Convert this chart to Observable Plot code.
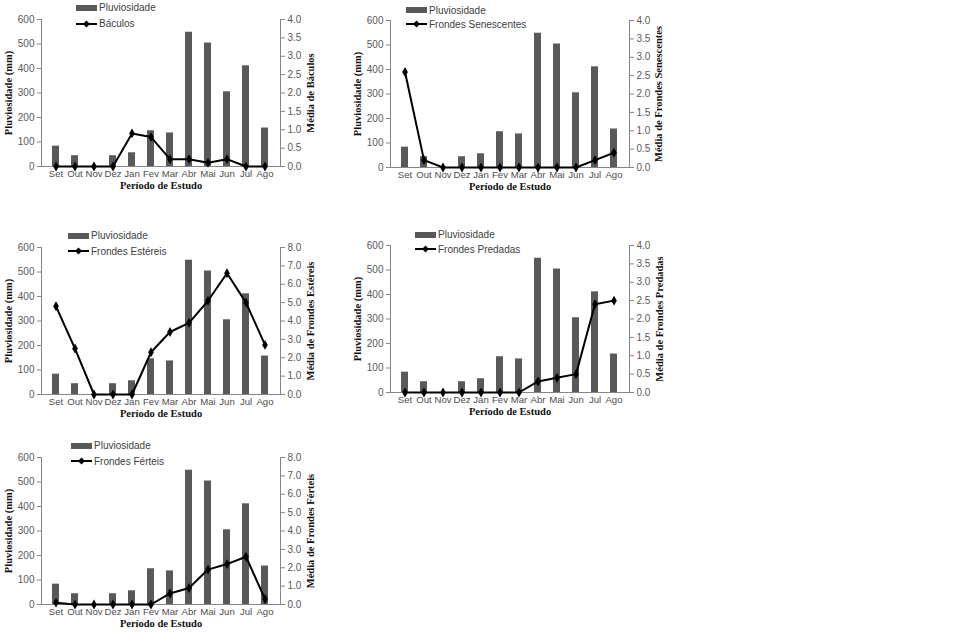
<!DOCTYPE html>
<html><head><meta charset="utf-8">
<script src="https://cdn.jsdelivr.net/npm/d3@7"></script>
<script src="https://cdn.jsdelivr.net/npm/@observablehq/plot@0.6"></script>
<style>
body{margin:0;background:#fff;}
#root{position:relative;width:970px;height:633px;overflow:hidden;background:#fff;}
.panel{position:absolute;}
.panel svg{overflow:visible;}
.lrow{position:absolute;display:flex;align-items:center;height:12px;font:10px "Liberation Sans",Arial,sans-serif;color:#404040;white-space:nowrap;}
.box{display:inline-block;width:21px;height:6px;background:#595959;margin-right:2px;}
.lrow svg{margin-right:2px;}
</style></head><body><div id="root"></div>
<script>
// ---- data ----
const months = ["Set","Out","Nov","Dez","Jan","Fev","Mar","Abr","Mai","Jun","Jul","Ago"];
const rainfall = [83, 44, 0, 44, 56, 146, 137, 548, 504, 305, 411, 157];
const baculos = [0, 0, 0, 0, 0.9, 0.8, 0.2, 0.2, 0.1, 0.2, 0, 0];
const senescentes = [2.6, 0.2, 0, 0, 0, 0, 0, 0, 0, 0, 0.2, 0.4];
const estereis = [4.8, 2.5, 0, 0, 0, 2.3, 3.4, 3.9, 5.1, 6.6, 5.0, 2.7];
const predadas = [0, 0, 0, 0, 0, 0, 0, 0.3, 0.4, 0.5, 2.4, 2.5];
const ferteis = [0.1, 0, 0, 0, 0, 0, 0.6, 0.9, 1.9, 2.2, 2.6, 0.3];
const rainTicks = [0, 100, 200, 300, 400, 500, 600];
const ticks4 = [0, 0.5, 1, 1.5, 2, 2.5, 3, 3.5, 4];
const ticks8 = [0, 1, 2, 3, 4, 5, 6, 7, 8];
const rainLabel = "Pluviosidade";
const xTitle = "Período de Estudo";
const yTitle = "Pluviosidade (mm)";

// ---- panel definitions ----
const panels = [
  {name: "Báculos", values: baculos, ticks: ticks4, max: 4, title: "Média de Báculos"},
  {name: "Frondes Senescentes", values: senescentes, ticks: ticks4, max: 4, title: "Média de Frondes Senescentes"},
  {name: "Frondes Estéreis", values: estereis, ticks: ticks8, max: 8, title: "Média de Frondes Estéreis"},
  {name: "Frondes Predadas", values: predadas, ticks: ticks4, max: 4, title: "Média de Frondes Predadas"},
  {name: "Frondes Férteis", values: ferteis, ticks: ticks8, max: 8, title: "Média de Frondes Férteis"}
];
// layout (absolute page positions)
const layout = [
  {left: 0,   top: -0.7, lx: 76,  ly1: 7.7,   ly2: 23.7, rdx: 30},
  {left: 349, top: 0.3,  lx: 406, ly1: 10,    ly2: 24.3, rdx: 29},
  {left: 0,   top: 227,  lx: 68,  ly1: 235.7, ly2: 251,  rdx: 30},
  {left: 349, top: 224.7,lx: 415, ly1: 234.7, ly2: 249.3,rdx: 30},
  {left: 0,   top: 437,  lx: 71,  ly1: 445.7, ly2: 461,  rdx: 30}
];

const root = document.getElementById("root");
const axisGray = "#868686";
const sans = "'Liberation Sans',Arial,sans-serif";
const serif = "'Liberation Serif','Times New Roman',serif";

panels.forEach((p, i) => {
  const L = layout[i];
  const k = 600 / p.max;
  const scaled = p.values.map(v => v * k);
  const chart = Plot.plot({
    width: 330, height: 203,
    marginLeft: 41, marginRight: 50, marginTop: 20, marginBottom: 36,
    style: {fontFamily: sans, fontSize: "10px", color: "#595959", background: "transparent"},
    x: {domain: months, paddingInner: 0.63, paddingOuter: 0.315, label: null},
    y: {domain: [0, 600], label: null},
    marks: [
      Plot.barY(months, {x: months, y: rainfall, fill: "#595959"}),
      Plot.ruleY([0], {stroke: axisGray}),
      Plot.frame({anchor: "left", stroke: axisGray}),
      Plot.frame({anchor: "right", stroke: axisGray}),
      Plot.axisY(rainTicks, {anchor: "left", tickSize: 4, tickPadding: 3, label: null, stroke: axisGray, fill: "#595959"}),
      Plot.axisY(p.ticks.map(t => t * k), {anchor: "right", tickSize: 4, tickPadding: 3, label: null, stroke: axisGray, fill: "#595959",
        tickFormat: v => (v / k).toFixed(1)}),
      Plot.axisX({tickSize: 0, tickPadding: 4, label: null, fill: "#4d4d4d", fontSize: 9.6}),
      Plot.line(months, {x: months, y: scaled, stroke: "black", strokeWidth: 2}),
      Plot.dot(months, {x: months, y: scaled, symbol: "diamond", r: 3, fill: "black", stroke: "none"}),
      Plot.text([xTitle], {frameAnchor: "bottom", dy: 22, textAnchor: "middle", fontFamily: serif, fontWeight: "bold", fontSize: 10.5, fill: "#111"}),
      Plot.text([yTitle], {frameAnchor: "left", dx: -33, rotate: -90, textAnchor: "middle", fontFamily: serif, fontWeight: "bold", fontSize: 10.5, fill: "#111"}),
      Plot.text([p.title], {frameAnchor: "right", dx: L.rdx, rotate: -90, textAnchor: "middle", fontFamily: serif, fontWeight: "bold", fontSize: 10.5, fill: "#111"})
    ]
  });
  const wrap = document.createElement("div");
  wrap.className = "panel";
  wrap.style.left = L.left + "px";
  wrap.style.top = L.top + "px";
  wrap.appendChild(chart);
  root.appendChild(wrap);

  const r1 = document.createElement("div");
  r1.className = "lrow";
  r1.style.left = L.lx + "px";
  r1.style.top = (L.ly1 - 6) + "px";
  r1.innerHTML = `<span class="box"></span><span>${rainLabel}</span>`;
  root.appendChild(r1);

  const r2 = document.createElement("div");
  r2.className = "lrow";
  r2.style.left = L.lx + "px";
  r2.style.top = (L.ly2 - 6) + "px";
  r2.innerHTML = `<svg width="21" height="10"><line x1="0" y1="5" x2="21" y2="5" stroke="black" stroke-width="2"/><path d="M10.5 1.5L14 5L10.5 8.5L7 5Z" fill="black"/></svg><span>${p.name}</span>`;
  root.appendChild(r2);
});
</script>
</body></html>
